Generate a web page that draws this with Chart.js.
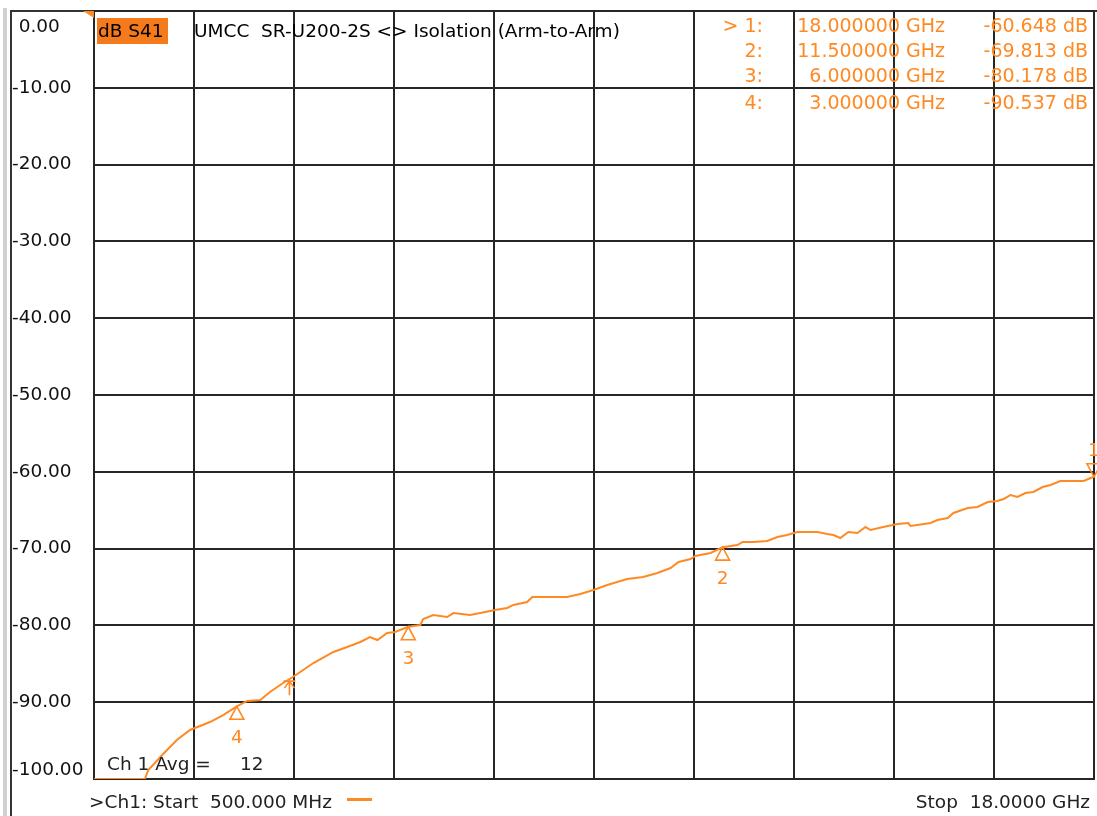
<!DOCTYPE html>
<html>
<head>
<meta charset="utf-8">
<script src="https://cdn.jsdelivr.net/npm/chart.js@4.4.1/dist/chart.umd.min.js"></script>
<style>
	html, body { margin: 0; padding: 0; background: #fff; }
	canvas { display: block; }
</style>
</head>
<body>
<canvas id="myChart" width="1097" height="816"></canvas>
<script>
// trace S41 (GHz / dB)
const freqGHz = [0.5, 1.39, 1.45, 1.71, 1.95, 2.18, 2.53, 2.76, 3.0, 3.18, 3.41, 3.58, 3.81, 3.98,
	4.34, 4.69, 4.93, 5.16, 5.33, 5.46, 5.63, 5.77, 6.0, 6.21, 6.26, 6.44, 6.68, 6.79, 7.08, 7.26,
	7.52, 7.73, 7.84, 8.08, 8.17, 8.78, 9.01, 9.24, 9.48, 9.83, 10.11, 10.36, 10.59, 10.73, 10.94,
	11.02, 11.29, 11.5, 11.76, 11.85, 12.04, 12.28, 12.46, 12.63, 12.81, 13.16, 13.33, 13.44, 13.56,
	13.7, 13.86, 14.0, 14.09, 14.31, 14.56, 14.75, 14.79, 15.14, 15.26, 15.44, 15.54, 15.79, 15.96,
	16.14, 16.31, 16.42, 16.54, 16.66, 16.8, 16.94, 17.1, 17.24, 17.41, 17.82, 17.94, 18.0]
const s41dB = [-100.0, -100.0, -98.83, -96.74, -94.92, -93.62, -92.58, -91.67, -90.54, -89.84, -89.71,
	-88.67, -87.5, -86.72, -84.9, -83.46, -82.81, -82.16, -81.51, -81.9, -80.99, -80.86, -80.18, -79.95,
	-79.17, -78.65, -78.91, -78.39, -78.65, -78.39, -78.0, -77.73, -77.34, -76.95, -76.3, -76.3, -75.91,
	-75.39, -74.74, -73.96, -73.7, -73.18, -72.53, -71.74, -71.35, -70.96, -70.57, -69.81, -69.53,
	-69.14, -69.14, -69.01, -68.49, -68.23, -67.84, -67.84, -68.1, -68.23, -68.62, -67.84, -67.97,
	-67.19, -67.58, -67.19, -66.8, -66.67, -67.06, -66.67, -66.28, -66.02, -65.36, -64.71, -64.58,
	-63.93, -63.8, -63.54, -63.02, -63.28, -62.76, -62.63, -61.98, -61.72, -61.2, -61.2, -60.81, -60.65]

// markers
const markerNames = ['1', '2', '3', '4']
const markerFreq = [18.0, 11.5, 6.0, 3.0]
const markerDb = [-60.648, -69.813, -80.178, -90.537]
const markerFreqText = ['18.000000 GHz', '11.500000 GHz', '6.000000 GHz', '3.000000 GHz']
const markerDbText = ['-60.648 dB', '-69.813 dB', '-80.178 dB', '-90.537 dB']
const activeMarker = 0
const arrowFreq = 3.92
const arrowDb = -87.0

// grid / tick labels
const xGrid = [0.5, 2.25, 4.0, 5.75, 7.5, 9.25, 11.0, 12.75, 14.5, 16.25, 18.0]
const yTicks = [0, -10, -20, -30, -40, -50, -60, -70, -80, -90, -100]
const yTickLabels = ['0.00', '-10.00', '-20.00', '-30.00', '-40.00', '-50.00', '-60.00', '-70.00', '-80.00', '-90.00', '-100.00']

const ORANGE = '#ff8a24'
const BOX = '#f57a1c'
const GRID = '#262626'
const FONT = '"DejaVu Sans", sans-serif'

const overlay = {
	id: 'overlay',
	beforeDraw(chart) {
		const ctx = chart.ctx
		ctx.save()
		ctx.fillStyle = '#fff'
		ctx.fillRect(0, 0, chart.width, chart.height)
		// window frame
		ctx.fillStyle = '#d0d0d0'
		ctx.fillRect(3, 8, 4, chart.height - 8)
		ctx.strokeStyle = '#333'
		ctx.lineWidth = 2
		ctx.beginPath()
		ctx.moveTo(11, chart.height)
		ctx.lineTo(11, 11)
		ctx.lineTo(chart.width, 11)
		ctx.stroke()
		ctx.restore()
	},
	afterDraw(chart) {
		const ctx = chart.ctx
		const xs = chart.scales.x
		const ys = chart.scales.y
		const area = chart.chartArea
		ctx.save()
		ctx.textBaseline = 'middle'

		// y labels, digits aligned after the minus sign
		ctx.font = '18.5px ' + FONT
		ctx.fillStyle = '#111'
		ctx.textAlign = 'left'
		const minusW = ctx.measureText('-').width
		yTicks.forEach((v, i) => {
			let py = ys.getPixelForValue(v)
			py = Math.min(Math.max(py, area.top + 16), area.bottom - 9)
			const lbl = yTickLabels[i]
			ctx.fillText(lbl, lbl[0] === '-' ? 12 : 12 + minusW, py)
		})

		// reference level wedge
		ctx.fillStyle = ORANGE
		ctx.beginPath()
		ctx.moveTo(area.left - 11, area.top)
		ctx.lineTo(area.left, area.top)
		ctx.lineTo(area.left, area.top + 7)
		ctx.closePath()
		ctx.fill()

		// title
		ctx.fillStyle = BOX
		ctx.fillRect(97, 18, 71, 26)
		ctx.fillStyle = '#000'
		ctx.fillText('dB S41', 98, 32)
		ctx.fillText('UMCC  SR-U200-2S <> Isolation (Arm-to-Arm)', 194, 32)

		// marker table
		ctx.font = '19px ' + FONT
		ctx.fillStyle = ORANGE
		const rowY = [27, 52, 77, 104]
		markerNames.forEach((m, i) => {
			ctx.textAlign = 'right'
			ctx.fillText((i === activeMarker ? '> ' : '') + m + ':', 763, rowY[i])
			ctx.fillText(markerFreqText[i], 945, rowY[i])
			ctx.fillText(markerDbText[i], 1088, rowY[i])
		})

		// markers on trace
		ctx.font = '18.5px ' + FONT
		ctx.strokeStyle = ORANGE
		ctx.lineWidth = 1.6
		ctx.textAlign = 'center'
		markerNames.forEach((m, i) => {
			const px = xs.getPixelForValue(markerFreq[i])
			const py = ys.getPixelForValue(markerDb[i])
			const dir = i === activeMarker ? -1 : 1
			ctx.beginPath()
			ctx.moveTo(px, py)
			ctx.lineTo(px - 7, py + dir * 13)
			ctx.lineTo(px + 7, py + dir * 13)
			ctx.closePath()
			ctx.stroke()
			ctx.fillText(m, px, py + dir * (i === activeMarker ? 26 : 32))
		})

		// stimulus arrow
		const ax = xs.getPixelForValue(arrowFreq)
		const ay = ys.getPixelForValue(arrowDb)
		ctx.beginPath()
		ctx.moveTo(ax - 6, ay + 2)
		ctx.lineTo(ax + 6, ay + 2)
		ctx.moveTo(ax, ay + 2)
		ctx.lineTo(ax, ay + 16)
		ctx.moveTo(ax - 5, ay + 9)
		ctx.lineTo(ax, ay + 2)
		ctx.lineTo(ax + 5, ay + 9)
		ctx.stroke()

		// footer
		ctx.fillStyle = '#222'
		ctx.textAlign = 'left'
		ctx.fillText('Ch 1 Avg =', 107, 765)
		ctx.fillText('12', 240, 765)
		ctx.fillText('>Ch1: Start  500.000 MHz', 89, 803)
		ctx.textAlign = 'right'
		ctx.fillText('Stop  18.0000 GHz', 1090, 803)
		ctx.fillStyle = ORANGE
		ctx.fillRect(347, 798, 25, 3)
		ctx.restore()
	},
}

const canvas = document.getElementById('myChart')

const config = {
	type: 'line',
	data: {
		datasets: [
			{
				data: freqGHz.map((f, i) => ({ x: f, y: s41dB[i] })),
				borderColor: ORANGE,
				borderWidth: 2,
				pointRadius: 0,
				tension: 0,
			},
		],
	},
	options: {
		responsive: false,
		animation: false,
		layout: { padding: { left: 94, top: 11, right: 3, bottom: 37 } },
		plugins: {
			legend: { display: false },
			tooltip: { enabled: false },
		},
		scales: {
			x: {
				type: 'linear',
				min: 0.5,
				max: 18,
				afterBuildTicks: (scale) => {
					scale.ticks = xGrid.map((v) => ({ value: v }))
				},
				ticks: { display: false },
				grid: { color: GRID, lineWidth: 2, drawTicks: false },
				border: { color: GRID, width: 2 },
			},
			y: {
				type: 'linear',
				min: -100,
				max: 0,
				afterBuildTicks: (scale) => {
					scale.ticks = yTicks.map((v) => ({ value: v }))
				},
				ticks: { display: false },
				grid: { color: GRID, lineWidth: 2, drawTicks: false },
				border: { color: GRID, width: 2 },
			},
		},
	},
	plugins: [overlay],
}

const myChart = new Chart(canvas, config)
</script>
</body>
</html>
